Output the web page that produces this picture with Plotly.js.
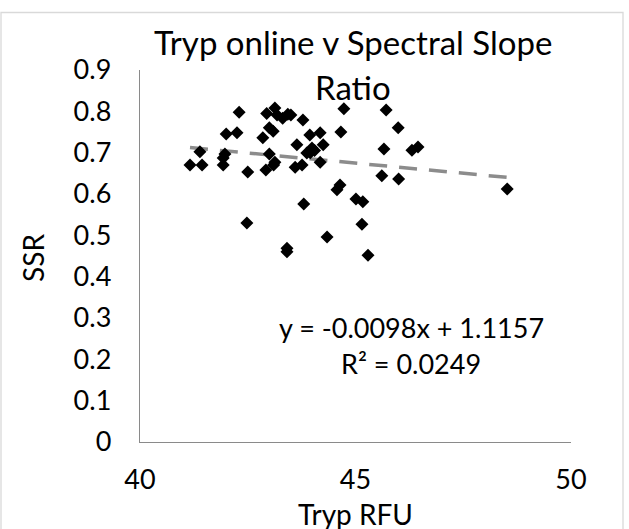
<!DOCTYPE html>
<html>
<head>
<meta charset="utf-8">
<script src="https://cdn.plot.ly/plotly-3.0.1.min.js"></script>
<style>html,body{margin:0;padding:0;background:#fff;}#chart{width:629px;height:529px;}</style>
</head>
<body>
<div id="chart"></div>
<script>
// Data
const trypRFU = [
  41.16, 41.44, 41.39, 41.93, 41.93, 41.97, 42.00, 42.25, 42.30, 42.50,
  42.48, 42.85, 42.92, 43.00, 43.10, 42.94, 43.13, 43.18, 43.31, 43.43,
  43.50, 43.00, 43.09, 43.64, 43.78, 43.94, 44.18, 43.99, 44.25, 43.87,
  43.95, 44.05, 44.18, 43.60, 43.76, 43.13, 44.64, 44.57, 45.01, 45.17,
  43.80, 43.41, 43.41, 44.34, 45.15, 45.29, 44.73, 44.66, 45.71, 45.99,
  45.66, 46.31, 46.45, 45.61, 46.00, 48.52
];
const ssr = [
  0.670, 0.670, 0.702, 0.670, 0.687, 0.697, 0.745, 0.748, 0.798, 0.653,
  0.530, 0.736, 0.658, 0.697, 0.670, 0.795, 0.808, 0.791, 0.783, 0.793,
  0.791, 0.760, 0.752, 0.719, 0.779, 0.743, 0.748, 0.711, 0.719, 0.699,
  0.700, 0.705, 0.677, 0.665, 0.670, 0.677, 0.622, 0.610, 0.588, 0.581,
  0.576, 0.469, 0.460, 0.496, 0.527, 0.452, 0.806, 0.750, 0.803, 0.760,
  0.709, 0.706, 0.714, 0.644, 0.636, 0.612
];
const slope = -0.0098;
const intercept = 1.1157;
const titleLines = ['Tryp online v Spectral Slope', 'Ratio'];
const eqLines = ['y = -0.0098x + 1.1157', 'R² = 0.0249'];
const xTicks = [40, 45, 50];
const yTicks = [0, 0.1, 0.2, 0.3, 0.4, 0.5, 0.6, 0.7, 0.8, 0.9];

const xMin = Math.min(...trypRFU), xMax = Math.max(...trypRFU);
const trendX = [xMin, xMax];
const trendY = trendX.map(v => slope * v + intercept);

const FONT = 'Lato, "Open Sans", sans-serif';

const data = [
  {
    x: trendX, y: trendY, type: 'scatter', mode: 'lines',
    line: {color: '#8c8c8c', width: 3.5, dash: '18px,12px'},
    hoverinfo: 'skip', showlegend: false
  },
  {
    x: trypRFU, y: ssr, type: 'scatter', mode: 'markers',
    marker: {symbol: 'diamond', size: 10, color: '#000000', line: {width: 0}},
    showlegend: false
  }
];

const layout = {
  width: 629, height: 529,
  margin: {l: 140, r: 58, t: 70, b: 87, pad: 0},
  paper_bgcolor: '#ffffff', plot_bgcolor: '#ffffff',
  font: {family: FONT, color: '#000000', size: 27},
  showlegend: false,
  xaxis: {
    range: [40, 50], tickvals: xTicks, ticktext: xTicks.map(String),
    showgrid: false, zeroline: false, showline: true, linecolor: '#8a8a8a', linewidth: 1.3,
    ticks: '', ticklabelstandoff: 13,
    tickfont: {family: FONT, size: 27, color: '#000'}
  },
  yaxis: {
    range: [0, 0.9], tickvals: yTicks, ticktext: yTicks.map(v => String(v)),
    showgrid: false, zeroline: false, showline: true, linecolor: '#8a8a8a', linewidth: 1.3,
    ticks: '', ticklabelstandoff: 22,
    tickfont: {family: FONT, size: 27, color: '#000'}
  },
  annotations: [
    {text: titleLines[0], xref: 'paper', yref: 'paper', x: (353-140)/431, y: 1 + 28/372,
     xanchor: 'center', yanchor: 'middle', showarrow: false, font: {family: FONT, size: 33, color: '#000'}},
    {text: titleLines[1], xref: 'paper', yref: 'paper', x: (353-140)/431, y: 1 - 17/372,
     xanchor: 'center', yanchor: 'middle', showarrow: false, font: {family: FONT, size: 33, color: '#000'}},
    {text: 'Tryp RFU', xref: 'paper', yref: 'paper', x: (355-140)/431, y: -(514-442)/372,
     xanchor: 'center', yanchor: 'middle', showarrow: false, font: {family: FONT, size: 28, color: '#000'}},
    {text: 'SSR', xref: 'paper', yref: 'paper', x: -(140-33)/431, y: (442-258)/372,
     xanchor: 'center', yanchor: 'middle', textangle: -90, showarrow: false, font: {family: FONT, size: 28, color: '#000'}},
    {text: eqLines[0], xref: 'paper', yref: 'paper', x: (411-140)/431, y: (442-327)/372,
     xanchor: 'center', yanchor: 'middle', showarrow: false, font: {family: FONT, size: 27, color: '#000'}},
    {text: eqLines[1], xref: 'paper', yref: 'paper', x: (411-140)/431, y: (442-363)/372,
     xanchor: 'center', yanchor: 'middle', showarrow: false, font: {family: FONT, size: 27, color: '#000'}}
  ],
  shapes: [
    {type: 'rect', xref: 'paper', yref: 'paper',
     x0: (1-140)/431, x1: (623-140)/431, y0: -(540-442)/372, y1: 1 + (70-12.5)/372,
     line: {color: '#d9d9d9', width: 1.3}, fillcolor: 'rgba(0,0,0,0)', layer: 'below'}
  ]
};

Plotly.newPlot('chart', data, layout, {displayModeBar: false, staticPlot: true});
</script>
</body>
</html>
